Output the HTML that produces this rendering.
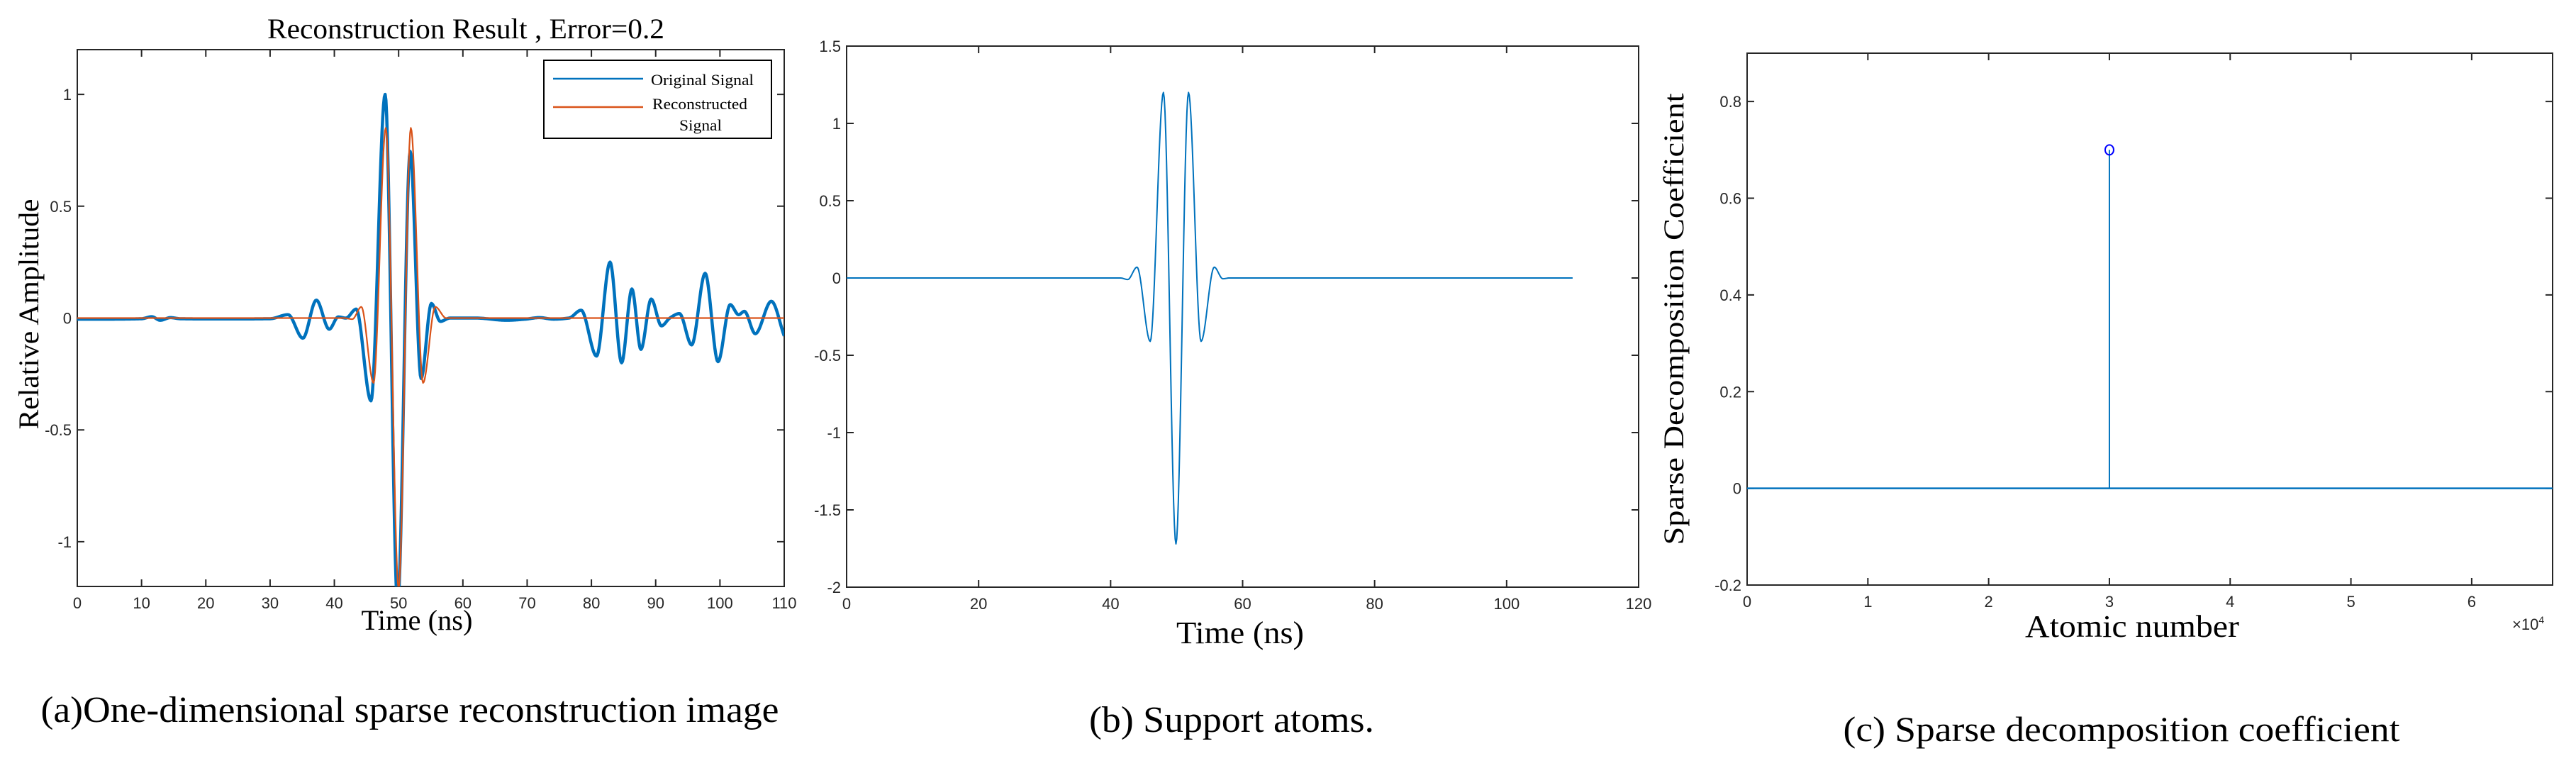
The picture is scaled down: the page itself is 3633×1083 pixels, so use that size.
<!DOCTYPE html>
<html>
<head>
<meta charset="utf-8">
<style>
html,body{margin:0;padding:0;background:#fff;}
svg{display:block;}
.tk{font-family:"Liberation Sans",sans-serif;font-size:22px;fill:#262626;}
.sf{font-family:"Liberation Serif",serif;fill:#000;}
</style>
</head>
<body>
<svg id="fig" width="3633" height="1083" viewBox="0 0 3633 1083" xmlns="http://www.w3.org/2000/svg">
<rect x="0" y="0" width="3633" height="1083" fill="#fff"/>
<defs>
<clipPath id="clipA"><rect x="109" y="70" width="997" height="757"/></clipPath>
<clipPath id="clipB"><rect x="1194" y="65" width="1117" height="763"/></clipPath>
<clipPath id="clipC"><rect x="2464" y="75" width="1136" height="750"/></clipPath>
</defs>

<text class="sf" x="657" y="54" font-size="40" text-anchor="middle" textLength="560" lengthAdjust="spacingAndGlyphs">Reconstruction Result , Error=0.2</text>
<text class="sf" x="0" y="0" font-size="40" text-anchor="middle" textLength="325" lengthAdjust="spacingAndGlyphs" transform="translate(54,443) rotate(-90)">Relative Amplitude</text>
<text class="sf" x="588" y="888" font-size="40" text-anchor="middle" textLength="157" lengthAdjust="spacingAndGlyphs">Time (ns)</text>
<text class="sf" x="578" y="1018" font-size="52" text-anchor="middle" textLength="1041" lengthAdjust="spacingAndGlyphs">(a)One-dimensional sparse reconstruction image</text>

<text class="sf" x="1749" y="907" font-size="44" text-anchor="middle" textLength="180" lengthAdjust="spacingAndGlyphs">Time (ns)</text>
<text class="sf" x="1737" y="1032" font-size="52" text-anchor="middle" textLength="402" lengthAdjust="spacingAndGlyphs">(b) Support atoms.</text>

<text class="sf" x="0" y="0" font-size="40" text-anchor="middle" textLength="637" lengthAdjust="spacingAndGlyphs" transform="translate(2374,450) rotate(-90)">Sparse Decomposition Coefficient</text>
<text class="sf" x="3007" y="898" font-size="44" text-anchor="middle" textLength="302" lengthAdjust="spacingAndGlyphs">Atomic number</text>
<text class="tk" x="3543" y="888" font-size="20">×10<tspan dy="-9" font-size="14">4</tspan></text>
<text class="sf" x="2992" y="1045" font-size="50" text-anchor="middle" textLength="785" lengthAdjust="spacingAndGlyphs">(c) Sparse decomposition coefficient</text>

<g id="layer"></g>
</svg>

<script>
// ---------------- Panel A data ----------------
const aXTicks = [0,10,20,30,40,50,60,70,80,90,100,110];
const aYTicks = [-1,-0.5,0,0.5,1];
const aYTickLabels = ["-1","-0.5","0","0.5","1"];
const origT = [0,5,10,11.6,12.9,14.5,16,20,25,30,32.8,35.1,37.2,39.2,40.6,41.8,43.4,45.7,47.9,49.85,51.8,53.5,55.1,56.5,58,62,66.8,69.7,71.9,74.1,76.5,78.4,80.8,82.9,84.7,86.3,87.7,89.3,90.9,92.2,93.7,95.6,97.7,99.7,101.6,102.9,103.8,105.5,108.0,110];
const origV = [-0.005,-0.005,-0.003,0.006,-0.01,0.002,-0.003,-0.004,-0.004,-0.003,0.015,-0.09,0.08,-0.05,0.005,0.0,0.04,-0.37,1.0,-1.28,0.745,-0.27,0.065,-0.015,0.0,0.0,-0.01,-0.005,0.002,-0.005,0.0,0.035,-0.17,0.25,-0.2,0.13,-0.14,0.085,-0.035,0.0,0.02,-0.12,0.2,-0.195,0.06,0.015,0.03,-0.07,0.075,-0.08];
const reconT = [0,41.5,42.8,44.2,46.1,48.0,50.0,51.9,53.8,55.7,57.4,110];
const reconV = [0,0,-0.005,0.05,-0.29,0.85,-1.21,0.85,-0.29,0.05,0,0];
const legendLabels = ["Original Signal","Reconstructed","Signal"];

// ---------------- Panel B data ----------------
const bXTicks = [0,20,40,60,80,100,120];
const bYTicks = [-2,-1.5,-1,-0.5,0,0.5,1,1.5];
const bYTickLabels = ["-2","-1.5","-1","-0.5","0","0.5","1","1.5"];
const atomT = [0,41.5,42.6,44.0,46.0,48.0,49.9,51.8,53.7,55.7,57.0,58.0,110];
const atomV = [0,0,-0.01,0.07,-0.41,1.2,-1.72,1.2,-0.41,0.07,-0.005,0,0];

// ---------------- Panel C data ----------------
const cXTicks = [0,10000,20000,30000,40000,50000,60000];
const cXTickLabels = ["0","1","2","3","4","5","6"];
const cYTicks = [-0.2,0,0.2,0.4,0.6,0.8];
const cYTickLabels = ["-0.2","0","0.2","0.4","0.6","0.8"];
const stemIndex = [30000];
const stemValues = [0.70];

const NS = "http://www.w3.org/2000/svg";
const layer = document.getElementById("layer");

function lin(d0,d1,r0,r1){ return v => r0 + (v-d0)*(r1-r0)/(d1-d0); }

const axA = {x0:109,x1:1106,y0:827,y1:70};
const xA = lin(0,110,axA.x0,axA.x1), yA = lin(-1.2,1.2,axA.y0,axA.y1);
const axB = {x0:1194,x1:2311,y0:828,y1:65};
const xB = lin(0,120,axB.x0,axB.x1), yB = lin(-2,1.5,axB.y0,axB.y1);
const axC = {x0:2464,x1:3600,y0:825,y1:75};
const xC = lin(0,66700,axC.x0,axC.x1), yC = lin(-0.2,0.9,axC.y0,axC.y1);

function monoPath(T,V,sx,sy){
  const n=T.length, d=[], m=new Array(n);
  for(let i=0;i<n-1;i++) d.push((V[i+1]-V[i])/(T[i+1]-T[i]));
  m[0]=d[0]; m[n-1]=d[n-2];
  for(let i=1;i<n-1;i++){
    if(d[i-1]*d[i]<=0) m[i]=0;
    else { const w1=2*(T[i+1]-T[i])+(T[i]-T[i-1]), w2=(T[i+1]-T[i])+2*(T[i]-T[i-1]); m[i]=(w1+w2)/(w1/d[i-1]+w2/d[i]); }
  }
  if(d[0]===0) m[0]=0; if(d[n-2]===0) m[n-1]=0;
  let p="M"+sx(T[0]).toFixed(2)+","+sy(V[0]).toFixed(2);
  for(let i=0;i<n-1;i++){
    const h=T[i+1]-T[i], steps=Math.max(2,Math.ceil(h*8));
    for(let k=1;k<=steps;k++){
      const s=k/steps, s2=s*s, s3=s2*s;
      const y=(2*s3-3*s2+1)*V[i]+(s3-2*s2+s)*h*m[i]+(-2*s3+3*s2)*V[i+1]+(s3-s2)*h*m[i+1];
      p+="L"+sx(T[i]+s*h).toFixed(2)+","+sy(y).toFixed(2);
    }
  }
  return p;
}

function drawAxes(ax, xs, ys, xt, xtl, yt, ytl, prefix, tickLen){
  const box=document.createElementNS(NS,"rect");
  box.setAttribute("x",ax.x0); box.setAttribute("y",ax.y1);
  box.setAttribute("width",ax.x1-ax.x0); box.setAttribute("height",ax.y0-ax.y1);
  box.setAttribute("fill","none"); box.setAttribute("stroke","#262626"); box.setAttribute("stroke-width","2");
  
  
  layer.appendChild(box);
  xt.forEach((v,i)=>{
    const x=xs(v);
    const t=document.createElementNS(NS,"path");
    t.setAttribute("d",`M${x},${ax.y0}V${ax.y0-tickLen}M${x},${ax.y1}V${ax.y1+tickLen}`);
    t.setAttribute("stroke","#262626"); t.setAttribute("stroke-width","2");
    
    
    layer.appendChild(t);
    const l=document.createElementNS(NS,"text");
    l.setAttribute("class","tk"); l.setAttribute("x",x); l.setAttribute("y",ax.y0+31);
    l.setAttribute("text-anchor","middle");
    l.textContent=xtl[i];
    
    
    layer.appendChild(l);
  });
  yt.forEach((v,i)=>{
    const y=ys(v);
    const t=document.createElementNS(NS,"path");
    t.setAttribute("d",`M${ax.x0},${y}H${ax.x0+tickLen}M${ax.x1},${y}H${ax.x1-tickLen}`);
    t.setAttribute("stroke","#262626"); t.setAttribute("stroke-width","2");
    
    
    layer.appendChild(t);
    const l=document.createElementNS(NS,"text");
    l.setAttribute("class","tk"); l.setAttribute("x",ax.x0-8); l.setAttribute("y",y+8);
    l.setAttribute("text-anchor","end");
    l.textContent=ytl[i];
    
    
    layer.appendChild(l);
  });
}

// Panel A
drawAxes(axA,xA,yA,aXTicks,aXTicks.map(String),aYTicks,aYTickLabels,"panel-a",10);
const gA=document.createElementNS(NS,"g"); gA.setAttribute("clip-path","url(#clipA)");


layer.appendChild(gA);
const lineOrig=document.createElementNS(NS,"path");
lineOrig.setAttribute("d",monoPath(origT,origV,xA,yA));
lineOrig.setAttribute("fill","none"); lineOrig.setAttribute("stroke","#0072BD"); lineOrig.setAttribute("stroke-width","4.5"); lineOrig.setAttribute("stroke-linejoin","round");


gA.appendChild(lineOrig);
const lineRec=document.createElementNS(NS,"path");
lineRec.setAttribute("d",monoPath(reconT,reconV,xA,yA));
lineRec.setAttribute("fill","none"); lineRec.setAttribute("stroke","#D95319"); lineRec.setAttribute("stroke-width","2.2"); lineRec.setAttribute("stroke-linejoin","round");


gA.appendChild(lineRec);

// Legend
const leg=document.createElementNS(NS,"g");


layer.appendChild(leg);
const legBox=document.createElementNS(NS,"rect");
legBox.setAttribute("x",767); legBox.setAttribute("y",85); legBox.setAttribute("width",321); legBox.setAttribute("height",110);
legBox.setAttribute("fill","#fff"); legBox.setAttribute("stroke","#000"); legBox.setAttribute("stroke-width","2");


leg.appendChild(legBox);
const legL1=document.createElementNS(NS,"path");
legL1.setAttribute("d","M780,111H907"); legL1.setAttribute("stroke","#0072BD"); legL1.setAttribute("stroke-width","2.5");


leg.appendChild(legL1);
const legL2=document.createElementNS(NS,"path");
legL2.setAttribute("d","M780,151H907"); legL2.setAttribute("stroke","#D95319"); legL2.setAttribute("stroke-width","2.5");


leg.appendChild(legL2);
const legT1=document.createElementNS(NS,"text");
legT1.setAttribute("class","sf"); legT1.setAttribute("x",918); legT1.setAttribute("y",120); legT1.setAttribute("font-size","22");
legT1.setAttribute("textLength","145"); legT1.setAttribute("lengthAdjust","spacingAndGlyphs");
legT1.textContent=legendLabels[0];


leg.appendChild(legT1);
const legT2=document.createElementNS(NS,"text");
legT2.setAttribute("class","sf"); legT2.setAttribute("x",920); legT2.setAttribute("y",154); legT2.setAttribute("font-size","22");
legT2.setAttribute("textLength","134"); legT2.setAttribute("lengthAdjust","spacingAndGlyphs");
legT2.textContent=legendLabels[1];


leg.appendChild(legT2);
const legT3=document.createElementNS(NS,"text");
legT3.setAttribute("class","sf"); legT3.setAttribute("x",958); legT3.setAttribute("y",184); legT3.setAttribute("font-size","22");
legT3.setAttribute("textLength","60"); legT3.setAttribute("lengthAdjust","spacingAndGlyphs");
legT3.textContent=legendLabels[2];


leg.appendChild(legT3);

// Panel B
drawAxes(axB,xB,yB,bXTicks,bXTicks.map(String),bYTicks,bYTickLabels,"panel-b",10);
const gB=document.createElementNS(NS,"g"); gB.setAttribute("clip-path","url(#clipB)");


layer.appendChild(gB);
const lineAtom=document.createElementNS(NS,"path");
lineAtom.setAttribute("d",monoPath(atomT,atomV,xB,yB));
lineAtom.setAttribute("fill","none"); lineAtom.setAttribute("stroke","#0072BD"); lineAtom.setAttribute("stroke-width","2"); lineAtom.setAttribute("stroke-linejoin","round");


gB.appendChild(lineAtom);

// Panel C
drawAxes(axC,xC,yC,cXTicks,cXTickLabels,cYTicks,cYTickLabels,"panel-c",10);
const gC=document.createElementNS(NS,"g"); gC.setAttribute("clip-path","url(#clipC)");


layer.appendChild(gC);
const baseLine=document.createElementNS(NS,"path");
baseLine.setAttribute("d",`M${axC.x0},${yC(0)}H${axC.x1}`);
baseLine.setAttribute("stroke","#0072BD"); baseLine.setAttribute("stroke-width","2.5");


gC.appendChild(baseLine);
stemIndex.forEach((idx,i)=>{
  const sx=xC(idx), sy=yC(stemValues[i]);
  const st=document.createElementNS(NS,"path");
  st.setAttribute("d",`M${sx},${yC(0)}V${sy}`);
  st.setAttribute("stroke","#0072BD"); st.setAttribute("stroke-width","2");
  
  
  gC.appendChild(st);
  const mk=document.createElementNS(NS,"ellipse");
  mk.setAttribute("cx",sx); mk.setAttribute("cy",sy); mk.setAttribute("rx",6); mk.setAttribute("ry",7);
  mk.setAttribute("fill","none"); mk.setAttribute("stroke","#0000FF"); mk.setAttribute("stroke-width","2");
  
  
  gC.appendChild(mk);
});
</script>
</body>
</html>
